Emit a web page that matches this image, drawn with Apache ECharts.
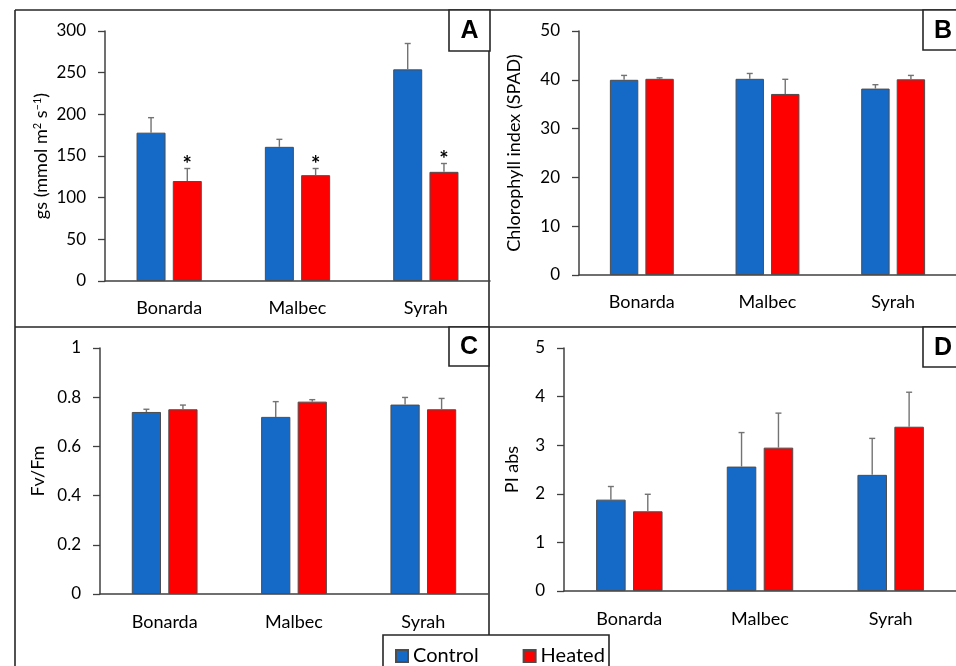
<!DOCTYPE html>
<html>
<head>
<meta charset="utf-8">
<script src="https://cdn.jsdelivr.net/npm/echarts@6/dist/echarts.min.js"></script>
<style>
  html, body { margin: 0; padding: 0; background: #fff; }
  #chart { width: 956px; height: 666px; }
</style>
</head>
<body>
<div id="chart"></div>
<script>
// Cultivars on every x axis
const categories = ['Bonarda', 'Malbec', 'Syrah'];
const seriesNames = ['Control', 'Heated'];

// A: stomatal conductance
const gsControl = [178, 161, 254];
const gsControlErr = [18, 9, 31];
const gsHeated = [120, 127, 131];
const gsHeatedErr = [15, 8, 10];
const gsHeatedSig = ['*', '*', '*'];

// B: chlorophyll index
const spadControl = [40.0, 40.2, 38.2];
const spadControlErr = [0.9, 1.1, 0.8];
const spadHeated = [40.2, 37.1, 40.1];
const spadHeatedErr = [0.2, 3.0, 0.8];

// C: maximum PSII quantum yield
const fvfmControl = [0.74, 0.72, 0.77];
const fvfmControlErr = [0.011, 0.062, 0.029];
const fvfmHeated = [0.751, 0.782, 0.751];
const fvfmHeatedErr = [0.017, 0.008, 0.044];

// D: performance index
const piControl = [1.88, 2.56, 2.39];
const piControlErr = [0.27, 0.70, 0.75];
const piHeated = [1.64, 2.95, 3.38];
const piHeatedErr = [0.35, 0.71, 0.71];

// Y axis ranges and tick steps
const yMax = [300, 50, 1, 5];
const yStep = [50, 10, 0.2, 1];

const BLUE = '#1569c7';
const RED = '#ff0000';
const FONT = 'Lato';
const BAR_W = 0.226;   // fraction of category band
const BAR_GAP = 0.25;  // fraction of bar width

const panels = [
  { letter: 'A', title: 'gs (mmol m{sup|2} s{sup|–1})', c: gsControl, ce: gsControlErr, h: gsHeated, he: gsHeatedErr, sig: gsHeatedSig,
    grid: { left: 105, top: 31, width: 385, height: 250 }, nameGap: 55, labelMargin: 18 },
  { letter: 'B', title: 'Chlorophyll index (SPAD)', c: spadControl, ce: spadControlErr, h: spadHeated, he: spadHeatedErr, sig: null,
    grid: { left: 579, top: 31, width: 383, height: 244 }, nameGap: 56, labelMargin: 18 },
  { letter: 'C', title: 'Fv/Fm', c: fvfmControl, ce: fvfmControlErr, h: fvfmHeated, he: fvfmHeatedErr, sig: null,
    grid: { left: 100, top: 348, width: 388, height: 246 }, nameGap: 53, labelMargin: 19 },
  { letter: 'D', title: 'PI abs', c: piControl, ce: piControlErr, h: piHeated, he: piHeatedErr, sig: null,
    grid: { left: 564, top: 348, width: 399, height: 243 }, nameGap: 43, labelMargin: 19 }
];

const grids = [], xAxes = [], yAxes = [], series = [];

// Upper-only error bar with cap, plus an optional significance mark
function errorBarRenderer(side) {
  return function (params, api) {
    const idx = api.value(0);
    const mean = api.value(1);
    const err = api.value(2);
    const sig = api.value(3);
    const band = api.size([1, 0])[0];
    const offset = side * band * BAR_W * (1 + BAR_GAP) / 2;
    const base = api.coord([idx, mean]);
    const top = api.coord([idx, mean + err]);
    const x = base[0] + offset;
    const stroke = { stroke: '#737373', lineWidth: 1.4 };
    const children = [
      { type: 'line', shape: { x1: x, y1: base[1], x2: x, y2: top[1] }, style: stroke },
      { type: 'line', shape: { x1: x - 3, y1: top[1], x2: x + 3, y2: top[1] }, style: stroke }
    ];
    if (sig && sig !== '-') {
      children.push({ type: 'text', style: { text: sig, x: x, y: top[1] - 4, align: 'center', verticalAlign: 'middle',
        font: 'bold 22px ' + FONT, fill: '#000' } });
    }
    return { type: 'group', children: children };
  };
}

panels.forEach((p, i) => {
  grids.push(Object.assign({ containLabel: false }, p.grid));
  xAxes.push({
    type: 'category', gridIndex: i, data: categories,
    axisLine: { show: true, lineStyle: { color: '#404040', width: 1.5 } },
    axisTick: { show: false },
    axisLabel: { fontFamily: FONT, fontSize: 18, color: '#000', margin: p.labelMargin }
  });
  yAxes.push({
    type: 'value', gridIndex: i, min: 0, max: yMax[i], interval: yStep[i],
    name: p.title, nameLocation: 'middle', nameGap: p.nameGap, nameRotate: 90,
    nameTextStyle: { fontFamily: FONT, fontSize: 18, color: '#000',
      rich: { sup: { fontFamily: FONT, fontSize: 11, color: '#000', verticalAlign: 'top', lineHeight: 11 } } },
    axisLine: { show: true, lineStyle: { color: '#404040', width: 1.5 } },
    axisTick: { show: true, inside: false, length: 7, lineStyle: { color: '#404040', width: 1.3 } },
    axisLabel: { fontFamily: FONT, fontSize: 17, color: '#000', margin: 19 },
    splitLine: { show: false }
  });
  const groups = [[p.c, p.ce, null, BLUE, -1], [p.h, p.he, p.sig, RED, 1]];
  groups.forEach((g, k) => {
    series.push({
      name: seriesNames[k], type: 'bar', xAxisIndex: i, yAxisIndex: i,
      data: g[0], barWidth: (BAR_W * 100) + '%', barGap: (BAR_GAP * 100) + '%',
      itemStyle: { color: g[3], borderColor: '#4d4d4d', borderWidth: 1 },
      emphasis: { disabled: true }, silent: true
    });
  });
  groups.forEach((g, k) => {
    series.push({
      type: 'custom', xAxisIndex: i, yAxisIndex: i, silent: true, clip: false, z: 5,
      renderItem: errorBarRenderer(g[4]),
      data: categories.map((_, j) => [j, g[0][j], g[1][j], g[2] ? g[2][j] : '-'])
    });
  });
});

// Panel frames, letter boxes and legend frame
const LINE = { stroke: '#262626', lineWidth: 1.6 };
function seg(x1, y1, x2, y2) { return { type: 'line', shape: { x1, y1, x2, y2 }, style: LINE, silent: true }; }
function letterBox(x, y, w, h, t) {
  return [
    { type: 'rect', shape: { x, y, width: w, height: h }, style: { fill: '#fff', stroke: '#262626', lineWidth: 1.6 }, silent: true, z: 10 },
    { type: 'text', x: x + w / 2, y: y + h / 2 + 1, style: { text: t, align: 'center', verticalAlign: 'middle', font: 'bold 25px "Liberation Sans"', fill: '#000' }, silent: true, z: 11 }
  ];
}
const graphics = [
  seg(15, 10, 956, 10),
  seg(15, 10, 15, 666),
  seg(489, 10, 489, 635),
  seg(15, 327, 956, 327),
  { type: 'rect', shape: { x: 383, y: 635, width: 226, height: 40 }, style: { fill: '#fff', stroke: '#262626', lineWidth: 1.6 }, silent: true, z: 10 },
  ...letterBox(449, 10, 41, 41, 'A'),
  ...letterBox(923, 10, 40, 40, 'B'),
  ...letterBox(449, 327, 40, 39, 'C'),
  ...letterBox(923, 327, 40, 40, 'D')
];

const chart = echarts.init(document.getElementById('chart'), null, { renderer: 'canvas' });
chart.setOption({
  backgroundColor: '#fff',
  animation: false,
  grid: grids,
  xAxis: xAxes,
  yAxis: yAxes,
  legend: {
    data: seriesNames, left: 395, top: 645, z: 20, padding: 0,
    icon: 'rect', itemWidth: 12, itemHeight: 12, itemGap: 44,
    textStyle: { fontFamily: FONT, fontSize: 20, color: '#000', lineHeight: 22 },
    selectedMode: false
  },
  graphic: graphics,
  series: series
});
</script>
</body>
</html>
